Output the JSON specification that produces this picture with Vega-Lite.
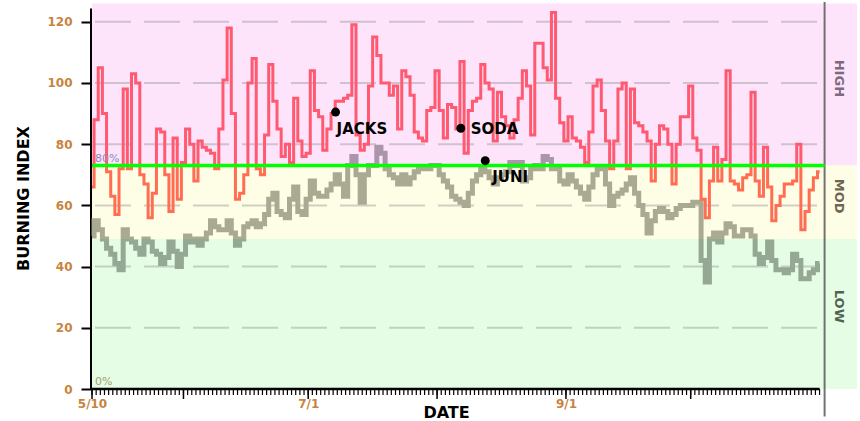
{
  "$schema": "https://vega.github.io/schema/vega-lite/v6.json",
  "width": 765,
  "height": 381,
  "autosize": {"type": "none"},
  "padding": {"left": 92, "top": 8, "right": 3, "bottom": 32},
  "background": "white",
  "config": {"view": {"stroke": null}, "font": "DejaVu Sans"},
  "datasets": {
    "series": [
      {"date":"2023-05-10","red":66,"gray":50},{"date":"2023-05-11","red":88,"gray":55},{"date":"2023-05-12","red":105,"gray":52},{"date":"2023-05-13","red":90,"gray":49},{"date":"2023-05-14","red":71,"gray":46},{"date":"2023-05-15","red":63,"gray":44},{"date":"2023-05-16","red":57,"gray":41},{"date":"2023-05-17","red":72,"gray":39},{"date":"2023-05-18","red":98,"gray":52},{"date":"2023-05-19","red":72,"gray":49},{"date":"2023-05-20","red":103,"gray":48},{"date":"2023-05-21","red":100,"gray":46},{"date":"2023-05-22","red":70,"gray":44},{"date":"2023-05-23","red":67,"gray":49},{"date":"2023-05-24","red":56,"gray":48},{"date":"2023-05-25","red":64,"gray":45},{"date":"2023-05-26","red":85,"gray":44},{"date":"2023-05-27","red":84,"gray":41},{"date":"2023-05-28","red":70,"gray":43},{"date":"2023-05-29","red":58,"gray":48},{"date":"2023-05-30","red":82,"gray":45},{"date":"2023-05-31","red":62,"gray":40},
      {"date":"2023-06-01","red":74,"gray":44},{"date":"2023-06-02","red":85,"gray":50},{"date":"2023-06-03","red":80,"gray":48},{"date":"2023-06-04","red":68,"gray":49},{"date":"2023-06-05","red":81,"gray":47},{"date":"2023-06-06","red":79,"gray":49},{"date":"2023-06-07","red":78,"gray":51},{"date":"2023-06-08","red":77,"gray":55},{"date":"2023-06-09","red":72,"gray":53},{"date":"2023-06-10","red":85,"gray":52},{"date":"2023-06-11","red":101,"gray":52},{"date":"2023-06-12","red":118,"gray":55},{"date":"2023-06-13","red":90,"gray":51},{"date":"2023-06-14","red":62,"gray":47},{"date":"2023-06-15","red":64,"gray":49},{"date":"2023-06-16","red":70,"gray":53},{"date":"2023-06-17","red":100,"gray":54},{"date":"2023-06-18","red":108,"gray":55},{"date":"2023-06-19","red":72,"gray":53},{"date":"2023-06-20","red":70,"gray":54},{"date":"2023-06-21","red":83,"gray":57},{"date":"2023-06-22","red":106,"gray":62},{"date":"2023-06-23","red":94,"gray":64},{"date":"2023-06-24","red":85,"gray":58},{"date":"2023-06-25","red":76,"gray":57},{"date":"2023-06-26","red":80,"gray":56},{"date":"2023-06-27","red":74,"gray":62},{"date":"2023-06-28","red":95,"gray":66},{"date":"2023-06-29","red":81,"gray":58},{"date":"2023-06-30","red":76,"gray":57},
      {"date":"2023-07-01","red":77,"gray":62},{"date":"2023-07-02","red":104,"gray":68},{"date":"2023-07-03","red":91,"gray":64},{"date":"2023-07-04","red":89,"gray":63},{"date":"2023-07-05","red":78,"gray":63},{"date":"2023-07-06","red":85,"gray":65},{"date":"2023-07-07","red":90,"gray":67},{"date":"2023-07-08","red":94,"gray":70},{"date":"2023-07-09","red":94,"gray":67},{"date":"2023-07-10","red":95,"gray":63},{"date":"2023-07-11","red":96,"gray":73},{"date":"2023-07-12","red":119,"gray":76},{"date":"2023-07-13","red":83,"gray":70},{"date":"2023-07-14","red":78,"gray":61},{"date":"2023-07-15","red":80,"gray":70},{"date":"2023-07-16","red":99,"gray":73},{"date":"2023-07-17","red":115,"gray":73},{"date":"2023-07-18","red":109,"gray":79},{"date":"2023-07-19","red":100,"gray":77},{"date":"2023-07-20","red":100,"gray":72},{"date":"2023-07-21","red":96,"gray":70},{"date":"2023-07-22","red":99,"gray":69},{"date":"2023-07-23","red":85,"gray":67},{"date":"2023-07-24","red":104,"gray":70},{"date":"2023-07-25","red":102,"gray":67},{"date":"2023-07-26","red":96,"gray":69},{"date":"2023-07-27","red":84,"gray":71},{"date":"2023-07-28","red":82,"gray":72},{"date":"2023-07-29","red":81,"gray":72},{"date":"2023-07-30","red":91,"gray":72},{"date":"2023-07-31","red":92,"gray":73},
      {"date":"2023-08-01","red":104,"gray":73},{"date":"2023-08-02","red":91,"gray":70},{"date":"2023-08-03","red":82,"gray":68},{"date":"2023-08-04","red":93,"gray":66},{"date":"2023-08-05","red":92,"gray":63},{"date":"2023-08-06","red":85,"gray":62},{"date":"2023-08-07","red":107,"gray":61},{"date":"2023-08-08","red":77,"gray":60},{"date":"2023-08-09","red":91,"gray":64},{"date":"2023-08-10","red":94,"gray":68},{"date":"2023-08-11","red":95,"gray":70},{"date":"2023-08-12","red":106,"gray":72},{"date":"2023-08-13","red":100,"gray":71},{"date":"2023-08-14","red":98,"gray":69},{"date":"2023-08-15","red":81,"gray":67},{"date":"2023-08-16","red":97,"gray":69},{"date":"2023-08-17","red":89,"gray":70},{"date":"2023-08-18","red":86,"gray":71},{"date":"2023-08-19","red":82,"gray":74},{"date":"2023-08-20","red":88,"gray":73},{"date":"2023-08-21","red":95,"gray":74},{"date":"2023-08-22","red":104,"gray":68},{"date":"2023-08-23","red":99,"gray":69},{"date":"2023-08-24","red":83,"gray":72},{"date":"2023-08-25","red":113,"gray":73},{"date":"2023-08-26","red":113,"gray":72},{"date":"2023-08-27","red":105,"gray":76},{"date":"2023-08-28","red":101,"gray":75},{"date":"2023-08-29","red":123,"gray":72},{"date":"2023-08-30","red":95,"gray":72},{"date":"2023-08-31","red":87,"gray":68},
      {"date":"2023-09-01","red":81,"gray":67},{"date":"2023-09-02","red":89,"gray":70},{"date":"2023-09-03","red":82,"gray":68},{"date":"2023-09-04","red":81,"gray":66},{"date":"2023-09-05","red":79,"gray":64},{"date":"2023-09-06","red":74,"gray":62},{"date":"2023-09-07","red":84,"gray":66},{"date":"2023-09-08","red":99,"gray":70},{"date":"2023-09-09","red":101,"gray":72},{"date":"2023-09-10","red":91,"gray":72},{"date":"2023-09-11","red":81,"gray":67},{"date":"2023-09-12","red":72,"gray":60},{"date":"2023-09-13","red":81,"gray":63},{"date":"2023-09-14","red":98,"gray":64},{"date":"2023-09-15","red":100,"gray":65},{"date":"2023-09-16","red":72,"gray":67},{"date":"2023-09-17","red":98,"gray":69},{"date":"2023-09-18","red":87,"gray":64},{"date":"2023-09-19","red":86,"gray":60},{"date":"2023-09-20","red":84,"gray":57},{"date":"2023-09-21","red":81,"gray":51},{"date":"2023-09-22","red":68,"gray":55},{"date":"2023-09-23","red":80,"gray":58},{"date":"2023-09-24","red":86,"gray":59},{"date":"2023-09-25","red":85,"gray":58},{"date":"2023-09-26","red":80,"gray":56},{"date":"2023-09-27","red":67,"gray":57},{"date":"2023-09-28","red":80,"gray":59},{"date":"2023-09-29","red":89,"gray":60},{"date":"2023-09-30","red":89,"gray":60},
      {"date":"2023-10-01","red":99,"gray":60},{"date":"2023-10-02","red":82,"gray":61},{"date":"2023-10-03","red":78,"gray":61},{"date":"2023-10-04","red":62,"gray":42},{"date":"2023-10-05","red":56,"gray":35},{"date":"2023-10-06","red":68,"gray":49},{"date":"2023-10-07","red":79,"gray":51},{"date":"2023-10-08","red":68,"gray":48},{"date":"2023-10-09","red":75,"gray":51},{"date":"2023-10-10","red":104,"gray":54},{"date":"2023-10-11","red":68,"gray":53},{"date":"2023-10-12","red":67,"gray":50},{"date":"2023-10-13","red":65,"gray":50},{"date":"2023-10-14","red":69,"gray":52},{"date":"2023-10-15","red":70,"gray":52},{"date":"2023-10-16","red":97,"gray":50},{"date":"2023-10-17","red":68,"gray":44},{"date":"2023-10-18","red":63,"gray":41},{"date":"2023-10-19","red":79,"gray":43},{"date":"2023-10-20","red":66,"gray":48},{"date":"2023-10-21","red":55,"gray":42},{"date":"2023-10-22","red":60,"gray":39},{"date":"2023-10-23","red":63,"gray":39},{"date":"2023-10-24","red":67,"gray":38},{"date":"2023-10-25","red":67,"gray":39},{"date":"2023-10-26","red":68,"gray":44},{"date":"2023-10-27","red":80,"gray":42},{"date":"2023-10-28","red":52,"gray":36},{"date":"2023-10-29","red":58,"gray":36},{"date":"2023-10-30","red":65,"gray":38},{"date":"2023-10-31","red":69,"gray":39},
      {"date":"2023-11-01","red":71,"gray":41}
    ],
    "days": [
      {"d":"2023-05-10","v":0},{"d":"2023-05-11","v":0},{"d":"2023-05-12","v":0},{"d":"2023-05-13","v":0},{"d":"2023-05-14","v":0},{"d":"2023-05-15","v":0},{"d":"2023-05-16","v":0},{"d":"2023-05-17","v":0},{"d":"2023-05-18","v":0},{"d":"2023-05-19","v":0},{"d":"2023-05-20","v":0},{"d":"2023-05-21","v":0},{"d":"2023-05-22","v":0},{"d":"2023-05-23","v":0},{"d":"2023-05-24","v":0},{"d":"2023-05-25","v":0},{"d":"2023-05-26","v":0},{"d":"2023-05-27","v":0},{"d":"2023-05-28","v":0},{"d":"2023-05-29","v":0},{"d":"2023-05-30","v":0},{"d":"2023-05-31","v":0},
      {"d":"2023-06-01","v":0},{"d":"2023-06-02","v":0},{"d":"2023-06-03","v":0},{"d":"2023-06-04","v":0},{"d":"2023-06-05","v":0},{"d":"2023-06-06","v":0},{"d":"2023-06-07","v":0},{"d":"2023-06-08","v":0},{"d":"2023-06-09","v":0},{"d":"2023-06-10","v":0},{"d":"2023-06-11","v":0},{"d":"2023-06-12","v":0},{"d":"2023-06-13","v":0},{"d":"2023-06-14","v":0},{"d":"2023-06-15","v":0},{"d":"2023-06-16","v":0},{"d":"2023-06-17","v":0},{"d":"2023-06-18","v":0},{"d":"2023-06-19","v":0},{"d":"2023-06-20","v":0},{"d":"2023-06-21","v":0},{"d":"2023-06-22","v":0},{"d":"2023-06-23","v":0},{"d":"2023-06-24","v":0},{"d":"2023-06-25","v":0},{"d":"2023-06-26","v":0},{"d":"2023-06-27","v":0},{"d":"2023-06-28","v":0},{"d":"2023-06-29","v":0},{"d":"2023-06-30","v":0},
      {"d":"2023-07-01","v":0},{"d":"2023-07-02","v":0},{"d":"2023-07-03","v":0},{"d":"2023-07-04","v":0},{"d":"2023-07-05","v":0},{"d":"2023-07-06","v":0},{"d":"2023-07-07","v":0},{"d":"2023-07-08","v":0},{"d":"2023-07-09","v":0},{"d":"2023-07-10","v":0},{"d":"2023-07-11","v":0},{"d":"2023-07-12","v":0},{"d":"2023-07-13","v":0},{"d":"2023-07-14","v":0},{"d":"2023-07-15","v":0},{"d":"2023-07-16","v":0},{"d":"2023-07-17","v":0},{"d":"2023-07-18","v":0},{"d":"2023-07-19","v":0},{"d":"2023-07-20","v":0},{"d":"2023-07-21","v":0},{"d":"2023-07-22","v":0},{"d":"2023-07-23","v":0},{"d":"2023-07-24","v":0},{"d":"2023-07-25","v":0},{"d":"2023-07-26","v":0},{"d":"2023-07-27","v":0},{"d":"2023-07-28","v":0},{"d":"2023-07-29","v":0},{"d":"2023-07-30","v":0},{"d":"2023-07-31","v":0},
      {"d":"2023-08-01","v":0},{"d":"2023-08-02","v":0},{"d":"2023-08-03","v":0},{"d":"2023-08-04","v":0},{"d":"2023-08-05","v":0},{"d":"2023-08-06","v":0},{"d":"2023-08-07","v":0},{"d":"2023-08-08","v":0},{"d":"2023-08-09","v":0},{"d":"2023-08-10","v":0},{"d":"2023-08-11","v":0},{"d":"2023-08-12","v":0},{"d":"2023-08-13","v":0},{"d":"2023-08-14","v":0},{"d":"2023-08-15","v":0},{"d":"2023-08-16","v":0},{"d":"2023-08-17","v":0},{"d":"2023-08-18","v":0},{"d":"2023-08-19","v":0},{"d":"2023-08-20","v":0},{"d":"2023-08-21","v":0},{"d":"2023-08-22","v":0},{"d":"2023-08-23","v":0},{"d":"2023-08-24","v":0},{"d":"2023-08-25","v":0},{"d":"2023-08-26","v":0},{"d":"2023-08-27","v":0},{"d":"2023-08-28","v":0},{"d":"2023-08-29","v":0},{"d":"2023-08-30","v":0},{"d":"2023-08-31","v":0},
      {"d":"2023-09-01","v":0},{"d":"2023-09-02","v":0},{"d":"2023-09-03","v":0},{"d":"2023-09-04","v":0},{"d":"2023-09-05","v":0},{"d":"2023-09-06","v":0},{"d":"2023-09-07","v":0},{"d":"2023-09-08","v":0},{"d":"2023-09-09","v":0},{"d":"2023-09-10","v":0},{"d":"2023-09-11","v":0},{"d":"2023-09-12","v":0},{"d":"2023-09-13","v":0},{"d":"2023-09-14","v":0},{"d":"2023-09-15","v":0},{"d":"2023-09-16","v":0},{"d":"2023-09-17","v":0},{"d":"2023-09-18","v":0},{"d":"2023-09-19","v":0},{"d":"2023-09-20","v":0},{"d":"2023-09-21","v":0},{"d":"2023-09-22","v":0},{"d":"2023-09-23","v":0},{"d":"2023-09-24","v":0},{"d":"2023-09-25","v":0},{"d":"2023-09-26","v":0},{"d":"2023-09-27","v":0},{"d":"2023-09-28","v":0},{"d":"2023-09-29","v":0},{"d":"2023-09-30","v":0},
      {"d":"2023-10-01","v":0},{"d":"2023-10-02","v":0},{"d":"2023-10-03","v":0},{"d":"2023-10-04","v":0},{"d":"2023-10-05","v":0},{"d":"2023-10-06","v":0},{"d":"2023-10-07","v":0},{"d":"2023-10-08","v":0},{"d":"2023-10-09","v":0},{"d":"2023-10-10","v":0},{"d":"2023-10-11","v":0},{"d":"2023-10-12","v":0},{"d":"2023-10-13","v":0},{"d":"2023-10-14","v":0},{"d":"2023-10-15","v":0},{"d":"2023-10-16","v":0},{"d":"2023-10-17","v":0},{"d":"2023-10-18","v":0},{"d":"2023-10-19","v":0},{"d":"2023-10-20","v":0},{"d":"2023-10-21","v":0},{"d":"2023-10-22","v":0},{"d":"2023-10-23","v":0},{"d":"2023-10-24","v":0},{"d":"2023-10-25","v":0},{"d":"2023-10-26","v":0},{"d":"2023-10-27","v":0},{"d":"2023-10-28","v":0},{"d":"2023-10-29","v":0},{"d":"2023-10-30","v":0},{"d":"2023-10-31","v":0},
      {"d":"2023-11-01","v":0}
    ],
    "bands": [
      {"band":"HIGH","lo":73,"hi":126,"mid":101.5,"s":"2023-05-10","e":"2023-11-10","lx":"2023-11-05T16:00:00Z"},
      {"band":"MOD","lo":49,"hi":73,"mid":63,"s":"2023-05-10","e":"2023-11-10","lx":"2023-11-05T16:00:00Z"},
      {"band":"LOW","lo":0,"hi":49,"mid":27,"s":"2023-05-10","e":"2023-11-10","lx":"2023-11-05T16:00:00Z"}
    ],
    "grid": [
      {"gy":20,"s":"2023-05-10","e":"2023-11-01"},{"gy":40,"s":"2023-05-10","e":"2023-11-01"},{"gy":60,"s":"2023-05-10","e":"2023-11-01"},
      {"gy":80,"s":"2023-05-10","e":"2023-11-01"},{"gy":100,"s":"2023-05-10","e":"2023-11-01"},{"gy":120,"s":"2023-05-10","e":"2023-11-01"}
    ],
    "months": [
      {"m":"2023-05-10","v":0},{"m":"2023-06-01","v":0},{"m":"2023-07-01","v":0},{"m":"2023-08-01","v":0},{"m":"2023-09-01","v":0},{"m":"2023-10-01","v":0}
    ],
    "baseline": [{"s":"2023-05-10","e":"2023-11-01","v":0}],
    "threshold": [{"s":"2023-05-10","e":"2023-11-02T05:00:00Z","v":73}],
    "separator": [{"x":"2023-11-02T05:00:00Z","y1":-9,"y2":126.5}],
    "pct": [{"t":"80%","d":"2023-05-10","v":73,"kind":"p80"},{"t":"0%","d":"2023-05-10","v":0,"kind":"p0"}],
    "stations": [
      {"name":"JACKS","date":"2023-07-07T14:00:00Z","v":90.5},
      {"name":"SODA","date":"2023-08-06T17:00:00Z","v":85.2},
      {"name":"JUNI","date":"2023-08-12T14:00:00Z","v":74.6}
    ]
  },
  "resolve": {"scale": {"color": "independent"}},
  "layer": [
    {
      "data": {"name": "bands"},
      "mark": {"type": "rect", "opacity": 1},
      "encoding": {
        "x": {"field": "s", "type": "temporal",
          "scale": {"type": "utc", "domain": [1683676800000, 1699574400000]},
          "axis": {
            "zindex": 1,
            "title": "DATE", "titleFont": "DejaVu Sans", "titleFontSize": 16, "titleFontWeight": "bold", "titleColor": "black",
            "titleX": 354, "titleY": 23, "titleBaseline": "middle", "titleAlign": "center", "titleAngle": 0,
            "domain": false, "grid": false, "ticks": false,
            "tickCount": {"interval": "day", "step": 1},
            "labelExpr": "indexof(['5/10','7/1','9/1'], utcFormat(datum.value, '%-m/%-d')) >= 0 ? utcFormat(datum.value, '%-m/%-d') : ''",
            "labelOverlap": false, "labelFlush": false, "labelBound": false, "labelAngle": 0,
            "labelFont": "DejaVu Sans", "labelFontSize": 12, "labelFontWeight": "bold", "labelColor": "#c8843e", "labelPadding": 9
          }
        },
        "x2": {"field": "e"},
        "y": {"field": "lo", "type": "quantitative",
          "scale": {"domain": [0, 124.5], "nice": false, "zero": false},
          "axis": {
            "values": [0, 20, 40, 60, 80, 100, 120],
            "title": "BURNING INDEX", "titleFont": "DejaVu Sans", "titleFontSize": 16, "titleFontWeight": "bold", "titleColor": "black",
            "titleX": -68, "titleY": 190, "titleAngle": -90, "titleAlign": "center", "titleBaseline": "middle",
            "grid": false, "offset": 1,
            "domainColor": "black", "domainWidth": 3,
            "tickColor": "black", "tickWidth": 2, "tickSize": 10,
            "labelFont": "DejaVu Sans", "labelFontSize": 12, "labelFontWeight": "bold", "labelColor": "#c8843e", "labelPadding": 9
          }
        },
        "y2": {"field": "hi"},
        "color": {"field": "band", "type": "nominal",
          "scale": {"domain": ["HIGH", "MOD", "LOW"], "range": ["#fde4fb", "#fefde6", "#e4fde4"]}, "legend": null}
      }
    },
    {
      "data": {"name": "bands"},
      "mark": {"type": "text", "angle": 90, "align": "center", "baseline": "middle", "font": "DejaVu Sans", "fontSize": 13, "fontWeight": "bold"},
      "encoding": {
        "x": {"field": "lx", "type": "temporal", "scale": {"type": "utc", "domain": [1683676800000, 1699574400000]}},
        "y": {"field": "mid", "type": "quantitative", "scale": {"domain": [0, 124.5], "nice": false, "zero": false}},
        "text": {"field": "band"},
        "color": {"field": "band", "type": "nominal",
          "scale": {"domain": ["HIGH", "MOD", "LOW"], "range": ["#7e6a7e", "#6d6452", "#4f634f"]}, "legend": null}
      }
    },
    {
      "data": {"name": "grid"},
      "mark": {"type": "rule", "stroke": "#8c8c8c", "opacity": 0.4, "strokeWidth": 2, "strokeDash": [36, 13], "strokeDashOffset": 46},
      "encoding": {
        "x": {"field": "s", "type": "temporal", "scale": {"type": "utc", "domain": [1683676800000, 1699574400000]}},
        "x2": {"field": "e"},
        "y": {"field": "gy", "type": "quantitative", "scale": {"domain": [0, 124.5], "nice": false, "zero": false}}
      }
    },
    {
      "data": {"name": "separator"},
      "mark": {"type": "rule", "stroke": "#5a5a5a", "strokeWidth": 2, "opacity": 0.85},
      "encoding": {
        "x": {"field": "x", "type": "temporal", "scale": {"type": "utc", "domain": [1683676800000, 1699574400000]}},
        "y": {"field": "y1", "type": "quantitative", "scale": {"domain": [0, 124.5], "nice": false, "zero": false}},
        "y2": {"field": "y2"}
      }
    },
    {
      "data": {"name": "days"},
      "mark": {"type": "tick", "orient": "vertical", "size": 6, "thickness": 1.2, "color": "black", "opacity": 1, "yOffset": 3},
      "encoding": {
        "x": {"field": "d", "type": "temporal", "scale": {"type": "utc", "domain": [1683676800000, 1699574400000]}},
        "y": {"field": "v", "type": "quantitative", "scale": {"domain": [0, 124.5], "nice": false, "zero": false}}
      }
    },
    {
      "data": {"name": "months"},
      "mark": {"type": "tick", "orient": "vertical", "size": 10, "thickness": 1.5, "color": "black", "opacity": 1, "yOffset": 5},
      "encoding": {
        "x": {"field": "m", "type": "temporal", "scale": {"type": "utc", "domain": [1683676800000, 1699574400000]}},
        "y": {"field": "v", "type": "quantitative", "scale": {"domain": [0, 124.5], "nice": false, "zero": false}}
      }
    },
    {
      "data": {"name": "baseline"},
      "mark": {"type": "rule", "stroke": "black", "strokeWidth": 2.5},
      "encoding": {
        "x": {"field": "s", "type": "temporal", "scale": {"type": "utc", "domain": [1683676800000, 1699574400000]}},
        "x2": {"field": "e"},
        "y": {"field": "v", "type": "quantitative", "scale": {"domain": [0, 124.5], "nice": false, "zero": false}}
      }
    },
    {
      "data": {"name": "series"},
      "mark": {"type": "line", "interpolate": "step", "strokeWidth": 5, "strokeCap": "butt", "strokeJoin": "miter",
        "stroke": {"gradient": "linear", "x1": 0, "y1": 0, "x2": 0, "y2": 1,
          "stops": [
            {"offset": 0, "color": "#ab95ab"}, {"offset": 0.1364, "color": "#ab95ab"},
            {"offset": 0.1364, "color": "#aaaa92"}, {"offset": 0.6818, "color": "#aaaa92"},
            {"offset": 0.6818, "color": "#95a893"}, {"offset": 1, "color": "#95a893"}
          ]}},
      "encoding": {
        "x": {"field": "date", "type": "temporal", "scale": {"type": "utc", "domain": [1683676800000, 1699574400000]}},
        "y": {"field": "gray", "type": "quantitative", "scale": {"domain": [0, 124.5], "nice": false, "zero": false}}
      }
    },
    {
      "data": {"name": "series"},
      "mark": {"type": "line", "interpolate": "step", "strokeWidth": 3, "strokeCap": "butt", "strokeJoin": "miter",
        "stroke": {"gradient": "linear", "x1": 0, "y1": 0, "x2": 0, "y2": 1,
          "stops": [
            {"offset": 0, "color": "#ff5a72"}, {"offset": 0.7042, "color": "#ff5a72"},
            {"offset": 0.7042, "color": "#ff6e52"}, {"offset": 1, "color": "#ff6e52"}
          ]}},
      "encoding": {
        "x": {"field": "date", "type": "temporal", "scale": {"type": "utc", "domain": [1683676800000, 1699574400000]}},
        "y": {"field": "red", "type": "quantitative", "scale": {"domain": [0, 124.5], "nice": false, "zero": false}}
      }
    },
    {
      "data": {"name": "threshold"},
      "mark": {"type": "rule", "stroke": "#00ff00", "strokeWidth": 3.5},
      "encoding": {
        "x": {"field": "s", "type": "temporal", "scale": {"type": "utc", "domain": [1683676800000, 1699574400000]}},
        "x2": {"field": "e"},
        "y": {"field": "v", "type": "quantitative", "scale": {"domain": [0, 124.5], "nice": false, "zero": false}}
      }
    },
    {
      "data": {"name": "pct"},
      "mark": {"type": "text", "align": "left", "baseline": "bottom", "dx": 3, "dy": -2, "font": "DejaVu Sans", "fontSize": 11},
      "encoding": {
        "x": {"field": "d", "type": "temporal", "scale": {"type": "utc", "domain": [1683676800000, 1699574400000]}},
        "y": {"field": "v", "type": "quantitative", "scale": {"domain": [0, 124.5], "nice": false, "zero": false}},
        "text": {"field": "t"},
        "color": {"field": "kind", "type": "nominal", "scale": {"domain": ["p80", "p0"], "range": ["#8c8cb8", "#a8a070"]}, "legend": null}
      }
    },
    {
      "data": {"name": "stations"},
      "mark": {"type": "point", "filled": true, "color": "black", "opacity": 1, "size": 80},
      "encoding": {
        "x": {"field": "date", "type": "temporal", "scale": {"type": "utc", "domain": [1683676800000, 1699574400000]}},
        "y": {"field": "v", "type": "quantitative", "scale": {"domain": [0, 124.5], "nice": false, "zero": false}}
      }
    },
    {
      "data": {"name": "stations"},
      "transform": [{"filter": "datum.name == 'JACKS'"}],
      "mark": {"type": "text", "align": "left", "baseline": "middle", "dx": 1, "dy": 17, "font": "DejaVu Sans", "fontSize": 15, "fontWeight": "bold", "color": "black"},
      "encoding": {
        "x": {"field": "date", "type": "temporal", "scale": {"type": "utc", "domain": [1683676800000, 1699574400000]}},
        "y": {"field": "v", "type": "quantitative", "scale": {"domain": [0, 124.5], "nice": false, "zero": false}},
        "text": {"field": "name"}
      }
    },
    {
      "data": {"name": "stations"},
      "transform": [{"filter": "datum.name == 'SODA'"}],
      "mark": {"type": "text", "align": "left", "baseline": "middle", "dx": 10, "dy": 1, "font": "DejaVu Sans", "fontSize": 15, "fontWeight": "bold", "color": "black"},
      "encoding": {
        "x": {"field": "date", "type": "temporal", "scale": {"type": "utc", "domain": [1683676800000, 1699574400000]}},
        "y": {"field": "v", "type": "quantitative", "scale": {"domain": [0, 124.5], "nice": false, "zero": false}},
        "text": {"field": "name"}
      }
    },
    {
      "data": {"name": "stations"},
      "transform": [{"filter": "datum.name == 'JUNI'"}],
      "mark": {"type": "text", "align": "left", "baseline": "middle", "dx": 7, "dy": 16.5, "font": "DejaVu Sans", "fontSize": 15, "fontWeight": "bold", "color": "black"},
      "encoding": {
        "x": {"field": "date", "type": "temporal", "scale": {"type": "utc", "domain": [1683676800000, 1699574400000]}},
        "y": {"field": "v", "type": "quantitative", "scale": {"domain": [0, 124.5], "nice": false, "zero": false}},
        "text": {"field": "name"}
      }
    }
  ]
}
